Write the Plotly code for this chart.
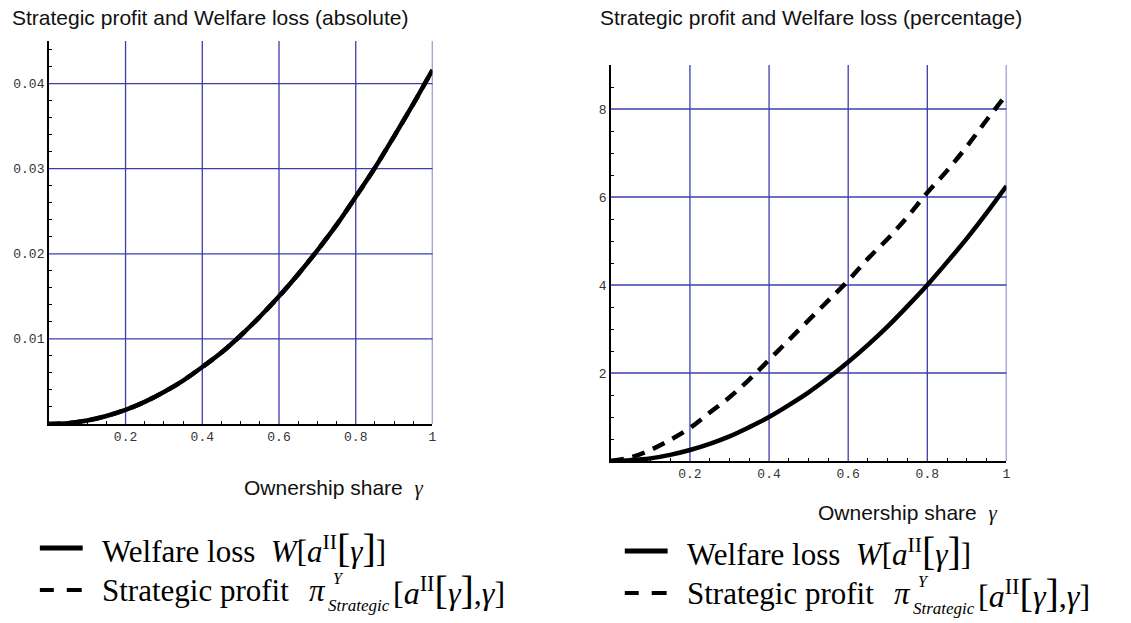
import plotly.graph_objects as go

W, H = 1131, 623

# ---------------- data ----------------
gamma = [0.0, 0.05, 0.10, 0.15, 0.20, 0.25, 0.30, 0.35, 0.40, 0.45, 0.50,
         0.55, 0.60, 0.65, 0.70, 0.75, 0.80, 0.85, 0.90, 0.95, 1.00]

welfare_abs = [0.0, 0.0001, 0.00042, 0.00094, 0.00167, 0.0026, 0.00375, 0.0051,
               0.0067, 0.0084, 0.0104, 0.0126, 0.0150, 0.0176, 0.0204, 0.0234,
               0.0267, 0.0301, 0.0338, 0.0376, 0.0416]
strategic_abs = [0.0, 0.0001, 0.00042, 0.00094, 0.00167, 0.0026, 0.00375, 0.0051,
                 0.0067, 0.0084, 0.0104, 0.0126, 0.0150, 0.0176, 0.0204, 0.0234,
                 0.0267, 0.0301, 0.0338, 0.0376, 0.0416]

welfare_pct = [0.0, 0.02, 0.06, 0.14, 0.25, 0.39, 0.56, 0.77, 1.0, 1.27, 1.56,
               1.89, 2.25, 2.64, 3.06, 3.52, 4.0, 4.52, 5.06, 5.64, 6.25]
strategic_pct = [0.0, 0.08, 0.25, 0.48, 0.75, 1.1, 1.45, 1.85, 2.3, 2.75, 3.2,
                 3.65, 4.1, 4.6, 5.05, 5.55, 6.1, 6.6, 7.15, 7.75, 8.33]

x_tickvals = [0.2, 0.4, 0.6, 0.8, 1.0]
x_ticktext = ["0.2", "0.4", "0.6", "0.8", "1"]
x_minor = [0.05, 0.1, 0.15, 0.25, 0.3, 0.35, 0.45, 0.5, 0.55, 0.65, 0.7, 0.75,
           0.85, 0.9, 0.95]
y1_tickvals = [0.01, 0.02, 0.03, 0.04]
y1_ticktext = ["0.01", "0.02", "0.03", "0.04"]
y1_minor = [0.002, 0.004, 0.006, 0.008, 0.012, 0.014, 0.016, 0.018, 0.022, 0.024,
            0.026, 0.028, 0.032, 0.034, 0.036, 0.038, 0.042, 0.044]
y2_tickvals = [2, 4, 6, 8]
y2_ticktext = ["2", "4", "6", "8"]
y2_minor = [0.5, 1, 1.5, 2.5, 3, 3.5, 4.5, 5, 5.5, 6.5, 7, 7.5, 8.5]

title_left = "Strategic profit and Welfare loss (absolute)"
title_right = "Strategic profit and Welfare loss (percentage)"

# ---------------- styling ----------------
GRID = "#3c3cb0"
TICKFONT = dict(family="Liberation Mono, Courier New, monospace", size=13, color="#333333")
LINEW = 4.5

def px_x(p):
    return p / W

def px_y(p):
    return 1 - p / H

fig = go.Figure()

# grid lines (drawn as antialiased shapes below the data)
def add_grid(xref, yref, xvals, yvals):
    for v in xvals:
        fig.add_shape(type="line", xref=xref, yref=yref + " domain", x0=v, x1=v,
                      y0=0, y1=1, layer="below", line=dict(color=GRID, width=1.3))
    for v in yvals:
        fig.add_shape(type="line", xref=xref + " domain", yref=yref, x0=0, x1=1,
                      y0=v, y1=v, layer="below", line=dict(color=GRID, width=1.3))

add_grid("x", "y", x_tickvals, y1_tickvals)
add_grid("x2", "y2", x_tickvals, y2_tickvals)

fig.add_trace(go.Scatter(x=gamma, y=welfare_abs, mode="lines", xaxis="x", yaxis="y",
                         line=dict(color="black", width=LINEW, shape="spline")))
fig.add_trace(go.Scatter(x=gamma, y=strategic_abs, mode="lines", xaxis="x", yaxis="y",
                         line=dict(color="black", width=LINEW, dash="12px,9px", shape="spline")))
fig.add_trace(go.Scatter(x=gamma, y=welfare_pct, mode="lines", xaxis="x2", yaxis="y2",
                         line=dict(color="black", width=LINEW, shape="spline")))
fig.add_trace(go.Scatter(x=gamma, y=strategic_pct, mode="lines", xaxis="x2", yaxis="y2",
                         line=dict(color="black", width=LINEW, dash="13px,9px", shape="spline")))

def axis_cfg(domain, anchor, rng, vals, text, minor_vals):
    return dict(domain=domain, anchor=anchor, range=rng, showline=True,
                linecolor="black", linewidth=1.5, showgrid=False, zeroline=False,
                tickmode="array", tickvals=vals, ticktext=text, ticks="",
                tickfont=TICKFONT,
                minor=dict(ticks="inside", tickmode="array", tickvals=minor_vals,
                           ticklen=3, tickcolor="black", tickwidth=1, showgrid=False))

fig.update_layout(
    width=W, height=H, margin=dict(l=0, r=0, t=0, b=0),
    paper_bgcolor="white", plot_bgcolor="white", showlegend=False,
    xaxis=axis_cfg([px_x(49), px_x(434)], "y", [0, 1], x_tickvals, x_ticktext, x_minor),
    yaxis=axis_cfg([px_y(424), px_y(41)], "x", [0, 0.045], y1_tickvals, y1_ticktext, y1_minor),
    xaxis2=axis_cfg([px_x(613), px_x(1010)], "y2", [0, 1], x_tickvals, x_ticktext, x_minor),
    yaxis2=axis_cfg([px_y(461), px_y(65)], "x2", [0, 9], y2_tickvals, y2_ticktext, y2_minor),
)

ann = []
SANS = "Liberation Sans, Arial, sans-serif"
SERIF = "Liberation Serif, Times New Roman, serif"

def text(x, y, t, size, family, xanchor="left", color="#111111"):
    ann.append(dict(x=px_x(x), y=px_y(y), xref="paper", yref="paper", text=t,
                    showarrow=False, xanchor=xanchor, yanchor="middle",
                    font=dict(family=family, size=size, color=color)))

# titles
text(10, 17, title_left, 21, SANS)
text(600, 17, title_right, 21, SANS)

# x axis labels
xl = 'Ownership share&nbsp; <span style="font-family:Liberation Serif"><i>γ</i></span>'
text(427, 488, xl, 21, SANS, xanchor="right")
text(1003, 513, xl, 21, SANS, xanchor="right")

# legends
LEG = 31
BIG = '<span style="font-size:40px">%s</span>'
def legend_block(x0, y1, y2):
    fig.add_shape(type="line", xref="paper", yref="paper",
                  x0=px_x(x0), x1=px_x(x0 + 43), y0=px_y(y1), y1=px_y(y1),
                  line=dict(color="black", width=5))
    fig.add_shape(type="line", xref="paper", yref="paper",
                  x0=px_x(x0), x1=px_x(x0 + 14), y0=px_y(y2), y1=px_y(y2),
                  line=dict(color="black", width=4))
    fig.add_shape(type="line", xref="paper", yref="paper",
                  x0=px_x(x0 + 27), x1=px_x(x0 + 42), y0=px_y(y2), y1=px_y(y2),
                  line=dict(color="black", width=4))
    tx = x0 + 60
    text(tx, y1, 'Welfare loss&nbsp; <i>W</i>[<i>a</i><sup>II</sup>' + BIG % '[' +
         '<i>γ</i>' + BIG % ']' + ']', LEG, SERIF, color="black")
    text(tx, y2, 'Strategic profit', LEG, SERIF, color="black")
    text(tx + 208, y2, '<i>π</i>', LEG, SERIF, color="black")
    text(tx + 232, y2 - 12, '<i>Y</i>', 16, SERIF, color="black")
    text(tx + 227, y2 + 15, '<i>Strategic</i>', 17, SERIF, color="black")
    text(tx + 292, y2, '[<i>a</i><sup>II</sup>' + BIG % '[' + '<i>γ</i>' + BIG % ']' +
         ',<i>γ</i>]', 32, SERIF, color="black")

legend_block(40, 548, 590)
legend_block(627, 551, 593)

fig.update_layout(annotations=ann)

fig.write_html("out.html")
